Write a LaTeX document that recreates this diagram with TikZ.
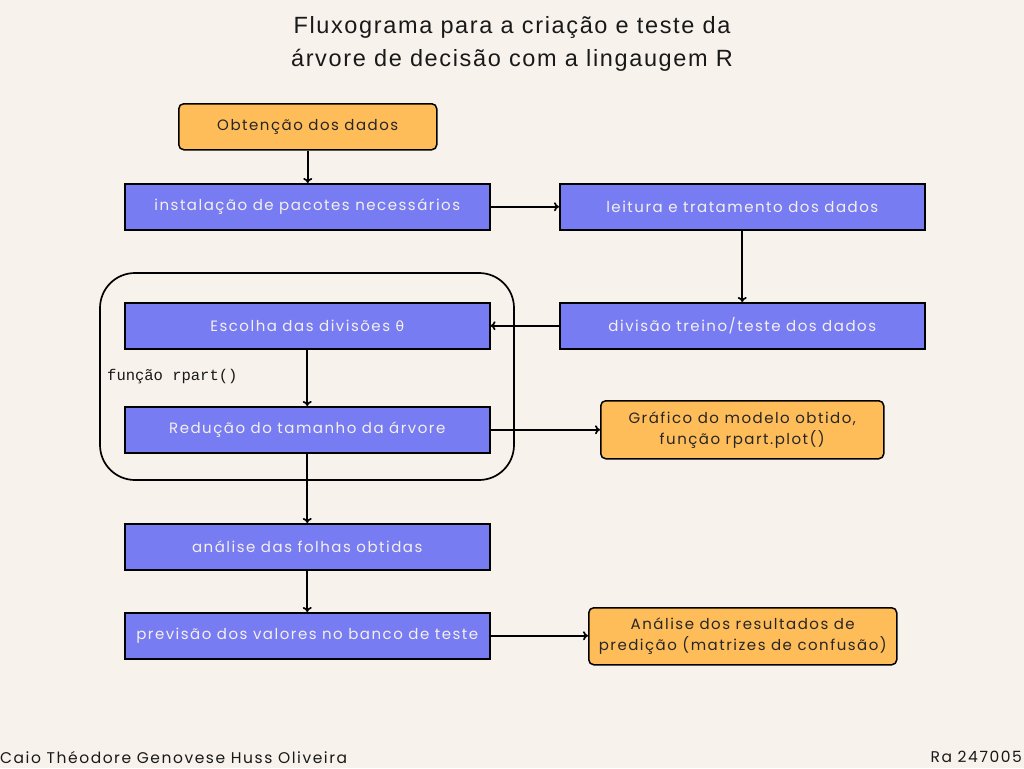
\documentclass[tikz,border=0pt]{standalone}
\usepackage{fontspec}
\setmainfont{Poppins}[LetterSpace=10]
\newfontfamily\titlefont{Liberation Sans}[LetterSpace=7]
\newfontfamily\monofont{Liberation Mono}
\newfontfamily\thetafont{DejaVu Sans}
\usetikzlibrary{arrows.meta}
\definecolor{bg}{HTML}{F7F3EC}
\definecolor{bluebox}{HTML}{777CF3}
\definecolor{orangebox}{HTML}{FFBD59}
\definecolor{lighttext}{HTML}{F5F0EA}
\begin{document}
\begin{tikzpicture}[x=1pt,y=-1pt,
  bluenode/.style={draw=black,line width=1.5pt,fill=bluebox,text=lighttext,minimum width=365pt,minimum height=46pt,inner sep=0pt,font=\fontsize{15}{18}\selectfont,anchor=north west},
  orangenode/.style={draw=black,line width=1.5pt,fill=orangebox,text=black!85,rounded corners=5pt,inner sep=0pt,font=\fontsize{15}{21}\selectfont,anchor=north west,align=center},
  arr/.style={line width=1.7pt,-{To[length=5pt,width=9pt]}}]
\useasboundingbox[fill=bg] (0,0) rectangle (1024,768);

\node[font=\titlefont\fontsize{23.5}{33}\selectfont,align=center,text=black!90] (title) at (512,44) {Fluxograma para a criação e teste da\\árvore de decisão com a lingaugem R};

\draw[line width=1.7pt,rounded corners=35pt] (100,273) rectangle (514,480);

\node[orangenode,minimum width=258pt,minimum height=46pt] (obt) at (178,103) {Obtenção dos dados};
\node[bluenode] (inst) at (124,183) {instalação de pacotes necessários};
\node[bluenode] (leit) at (559,183) {leitura e tratamento dos dados};
\node[bluenode] (div) at (559,302) {divisão treino/teste dos dados};
\node[bluenode] (esc) at (124,302) {Escolha das divisões {\thetafont\fontsize{14}{18}\selectfont θ}};
\node[bluenode] (red) at (124,406) {Redução do tamanho da árvore};
\node[orangenode,minimum width=283pt,minimum height=58pt] (graf) at (600,400) {Gráfico do modelo obtido,\\função rpart.plot()};
\node[bluenode] (anal) at (124,523) {análise das folhas obtidas};
\node[bluenode] (prev) at (124,612) {previsão dos valores no banco de teste};
\node[orangenode,minimum width=308pt,minimum height=57pt] (res) at (588,607) {Análise dos resultados de\\predição (matrizes de confusão)};

\node[anchor=west,font=\monofont\fontsize{15.5}{18}\selectfont,text=black!90,inner sep=0pt] (fun) at (107,377) {função rpart()};

\draw[arr] (obt.south) -- (inst.north -| obt.south);
\draw[arr] (inst.east) -- (leit.west);
\draw[arr] (leit.south) -- (div.north);
\draw[arr] (div.west) -- (esc.east);
\draw[arr] (esc.south) -- (red.north);
\draw[arr] (red.east) -- (graf.west |- red.east);
\draw[arr] (red.south) -- (anal.north);
\draw[arr] (anal.south) -- (prev.north);
\draw[arr] (prev.east) -- (res.west |- prev.east);

\node[anchor=west,inner sep=0pt,font=\fontsize{15.5}{18}\selectfont,text=black!90] (author) at (0,757) {Caio Théodore Genovese Huss Oliveira};
\node[anchor=east,inner sep=0pt,font=\fontsize{15.5}{18}\selectfont,text=black!90] (ra) at (1022,757) {Ra 247005};
\end{tikzpicture}
\end{document}
